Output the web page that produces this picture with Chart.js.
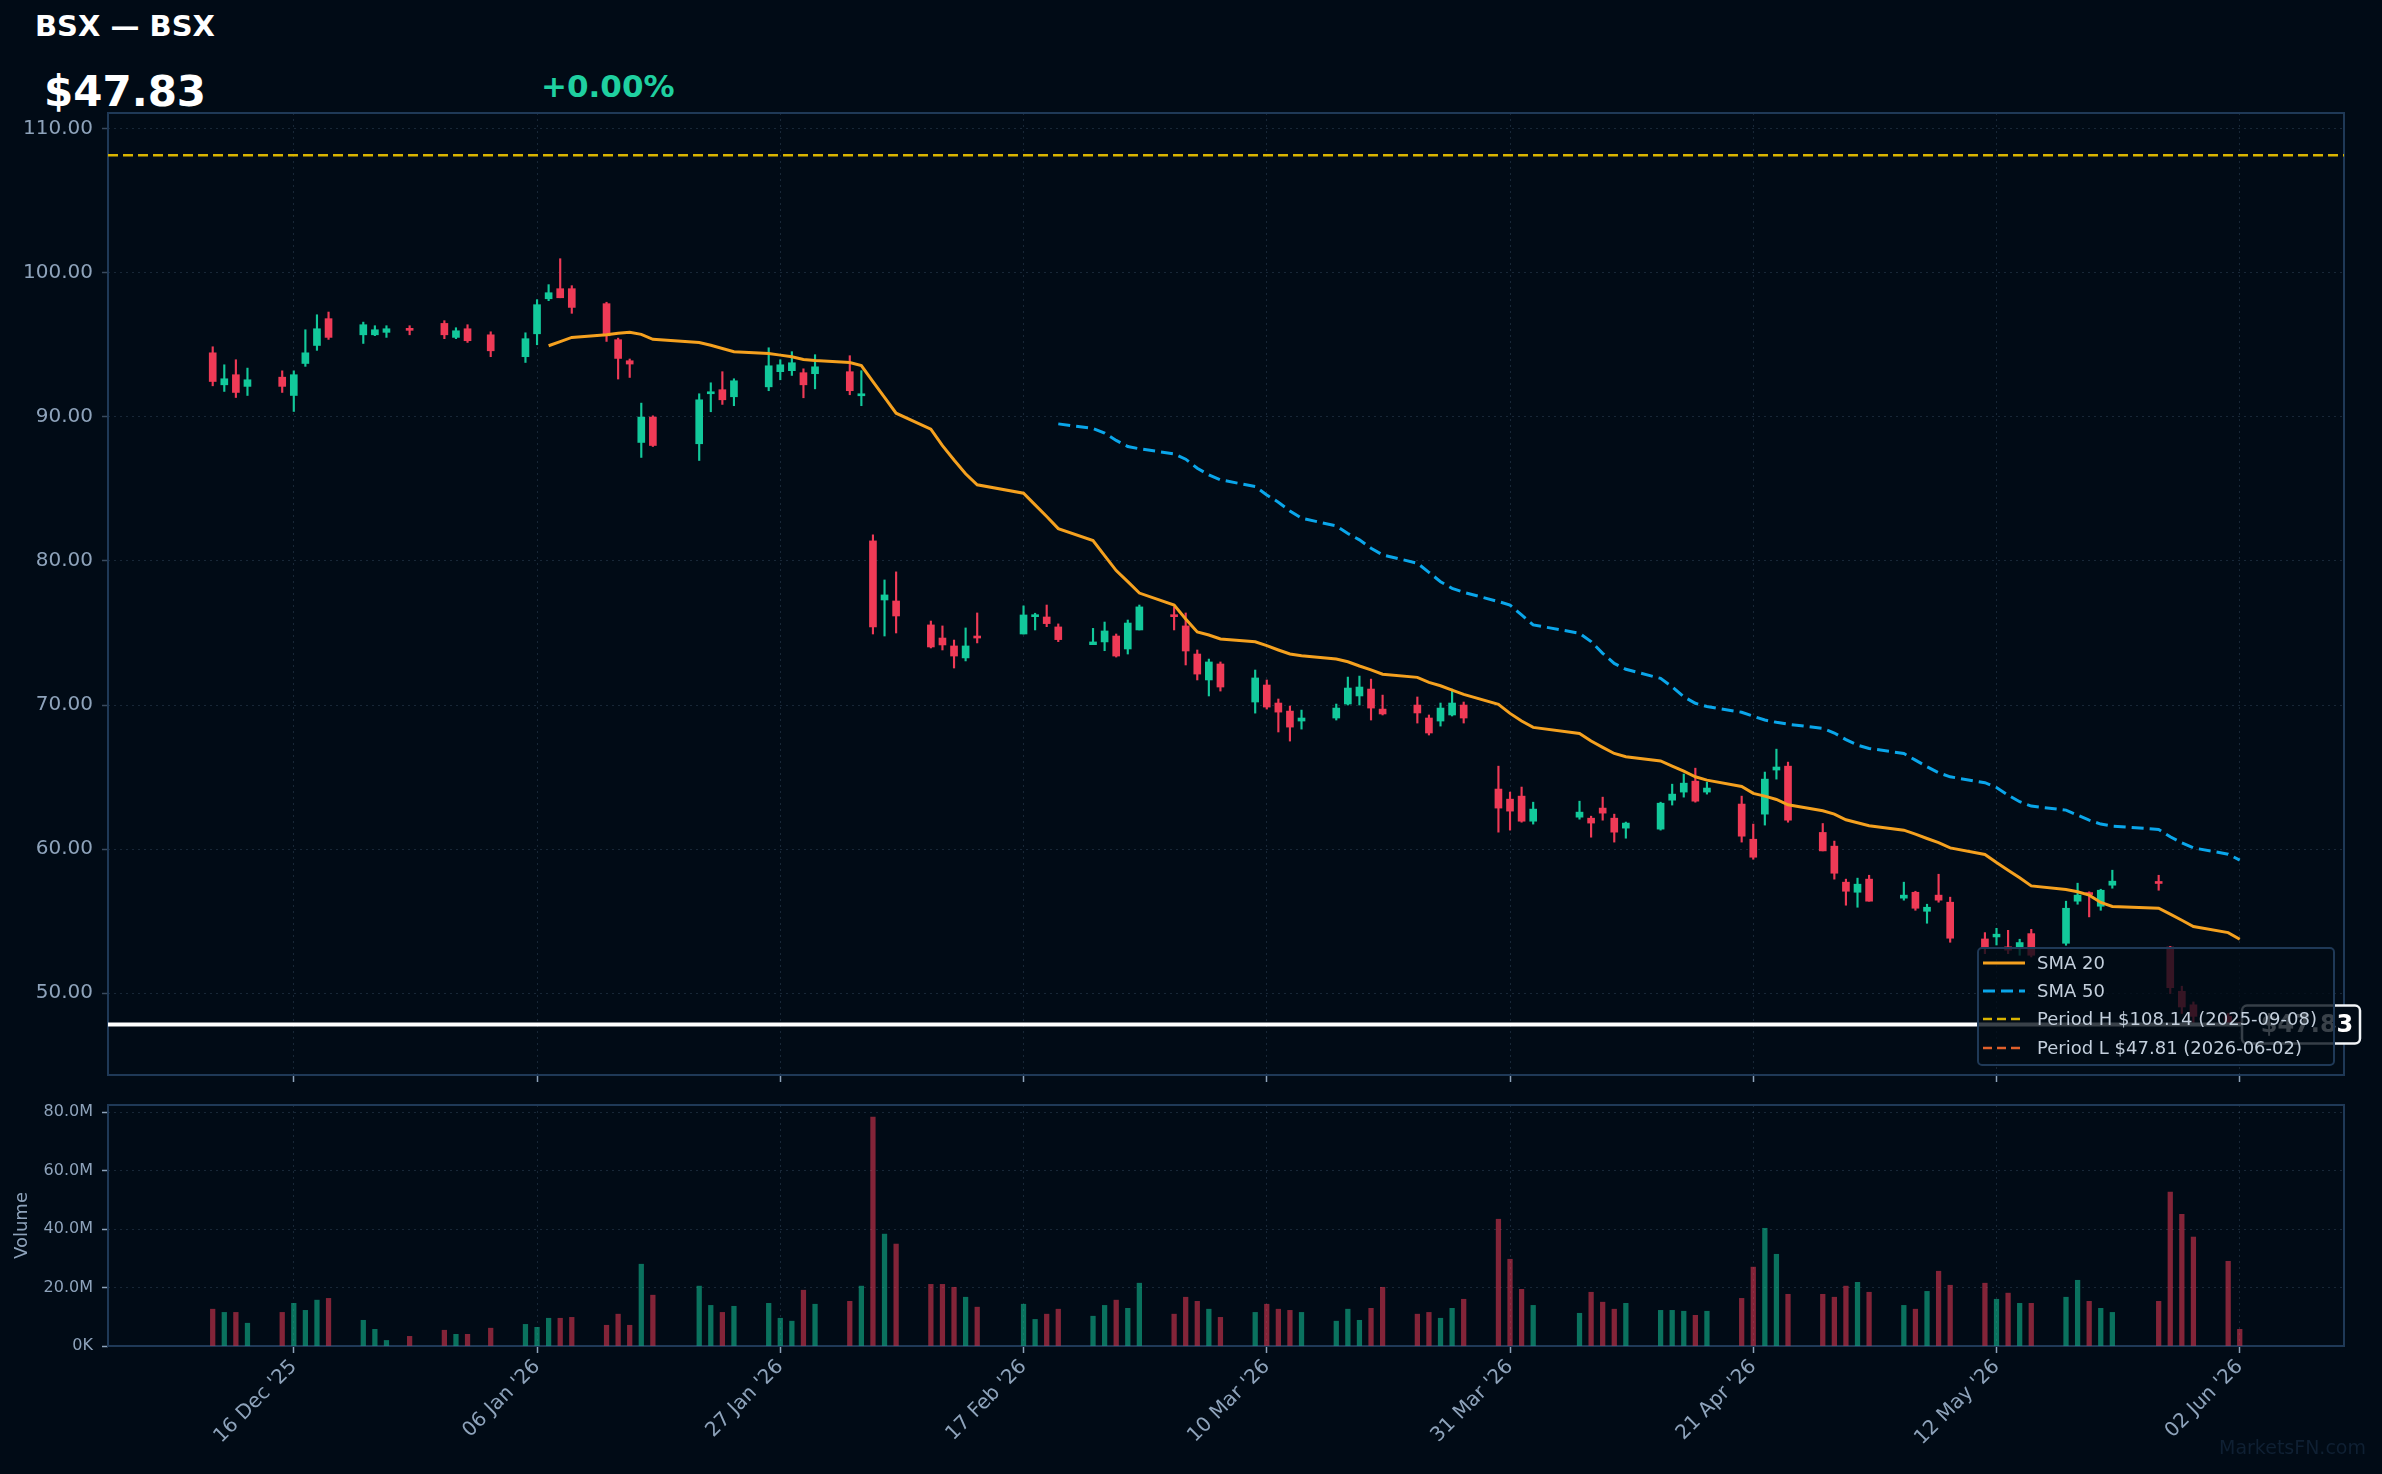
<!DOCTYPE html>
<html>
<head>
<meta charset="utf-8">
<title>BSX — BSX</title>
<script src="https://cdn.jsdelivr.net/npm/chart.js@4.4.1/dist/chart.umd.min.js"></script>
<style>
  html, body { margin: 0; padding: 0; background: #010b16; }
  body { width: 2382px; height: 1474px; position: relative; overflow: hidden; font-family: 'DejaVu Sans', sans-serif; }
  .abs { position: absolute; white-space: nowrap; line-height: 1; }
  #title { left: 35px; top: 12px; font-size: 29px; font-weight: bold; color: #ffffff; }
  #lastPrice { left: 44px; top: 71px; font-size: 42px; font-weight: bold; color: #ffffff; }
  #change { left: 541px; top: 71px; font-size: 31px; font-weight: bold; color: #1fd0a0; }
  #priceWrap { left: 0; top: 0; }
  #volWrap { left: 0; top: 1086px; }
  #legend { left: 1977px; top: 947px; width: 358px; height: 119px; box-sizing: border-box;
            border: 2px solid #1f3957; border-radius: 5px; background: rgba(1, 11, 22, 0.78); }
  #legend .sample { position: absolute; left: 4px; width: 42px; height: 6px; }
  #legend .txt { position: absolute; left: 58px; font-size: 18px; line-height: 1; color: #c3cfdc; white-space: nowrap; }
  #watermark { right: 16px; top: 1438px; font-size: 19px; color: #0f2033; }
</style>
</head>
<body>
<div id="title" class="abs">BSX — BSX</div>
<div id="lastPrice" class="abs">$47.83</div>
<div id="change" class="abs">+0.00%</div>

<div id="priceWrap" class="abs"><canvas id="priceChart" width="2382" height="1096"></canvas></div>
<div id="volWrap" class="abs"><canvas id="volumeChart" width="2382" height="388"></canvas></div>

<div id="legend" class="abs">
  <svg class="sample" style="top:11px" viewBox="0 0 42 6"><line x1="0" y1="3" x2="42" y2="3" stroke="#f5a11f" stroke-width="3"/></svg>
  <div class="txt" style="top:5px">SMA 20</div>
  <svg class="sample" style="top:39px" viewBox="0 0 42 6"><line x1="0" y1="3" x2="42" y2="3" stroke="#0aa6ea" stroke-width="3" stroke-dasharray="12 6"/></svg>
  <div class="txt" style="top:33px">SMA 50</div>
  <svg class="sample" style="top:67px" viewBox="0 0 42 6"><line x1="0" y1="3" x2="42" y2="3" stroke="#d9b400" stroke-width="2.5" stroke-dasharray="9 5"/></svg>
  <div class="txt" style="top:61px">Period H $108.14 (2025-09-08)</div>
  <svg class="sample" style="top:96px" viewBox="0 0 42 6"><line x1="0" y1="3" x2="42" y2="3" stroke="#e0602b" stroke-width="2.5" stroke-dasharray="9 5"/></svg>
  <div class="txt" style="top:90px">Period L $47.81 (2026-06-02)</div>
</div>
<div id="watermark" class="abs">MarketsFN.com</div>

<script>
// trading days shown in the chart
const DATES = [
  '2025-12-09','2025-12-10','2025-12-11','2025-12-12','2025-12-15','2025-12-16','2025-12-17','2025-12-18','2025-12-19',
  '2025-12-22','2025-12-23','2025-12-24','2025-12-26','2025-12-29','2025-12-30','2025-12-31',
  '2026-01-02','2026-01-05','2026-01-06','2026-01-07','2026-01-08','2026-01-09','2026-01-12','2026-01-13','2026-01-14',
  '2026-01-15','2026-01-16','2026-01-20','2026-01-21','2026-01-22','2026-01-23','2026-01-26','2026-01-27','2026-01-28',
  '2026-01-29','2026-01-30',
  '2026-02-02','2026-02-03','2026-02-04','2026-02-05','2026-02-06','2026-02-09','2026-02-10','2026-02-11','2026-02-12',
  '2026-02-13','2026-02-17','2026-02-18','2026-02-19','2026-02-20','2026-02-23','2026-02-24','2026-02-25','2026-02-26',
  '2026-02-27',
  '2026-03-02','2026-03-03','2026-03-04','2026-03-05','2026-03-06','2026-03-09','2026-03-10','2026-03-11','2026-03-12',
  '2026-03-13','2026-03-16','2026-03-17','2026-03-18','2026-03-19','2026-03-20','2026-03-23','2026-03-24','2026-03-25',
  '2026-03-26','2026-03-27','2026-03-30','2026-03-31',
  '2026-04-01','2026-04-02','2026-04-06','2026-04-07','2026-04-08','2026-04-09','2026-04-10','2026-04-13','2026-04-14',
  '2026-04-15','2026-04-16','2026-04-17','2026-04-20','2026-04-21','2026-04-22','2026-04-23','2026-04-24','2026-04-27',
  '2026-04-28','2026-04-29','2026-04-30',
  '2026-05-01','2026-05-04','2026-05-05','2026-05-06','2026-05-07','2026-05-08','2026-05-11','2026-05-12','2026-05-13',
  '2026-05-14','2026-05-15','2026-05-18','2026-05-19','2026-05-20','2026-05-21','2026-05-22','2026-05-26','2026-05-27',
  '2026-05-28','2026-05-29',
  '2026-06-01','2026-06-02'
];

const OPEN = [
  94.44, 92.22, 92.92, 92.11, 92.75, 91.48, 93.70, 94.95, 96.81, 95.69, 95.69, 95.86, 96.11, 96.48, 95.51, 96.11,
  95.69, 94.17, 95.76, 98.19, 98.89, 98.89, 97.85, 95.35, 93.89, 88.22, 89.98, 88.13, 91.60, 91.88, 91.39, 92.08, 93.13, 93.20, 93.06, 92.99,
  93.13, 91.46, 81.39, 77.29, 77.22, 75.56, 74.65, 74.10, 73.27, 74.79, 74.93, 76.13, 76.11, 75.42, 74.19, 74.38, 74.79, 73.89, 75.21,
  76.25, 75.49, 73.54, 71.74, 72.85, 70.21, 71.39, 70.14, 69.58, 68.89, 69.10, 70.07, 70.63, 71.11, 69.72, 70.00, 69.10, 68.89, 69.31, 70.00, 64.17, 63.47,
  63.68, 61.94, 62.22, 62.15, 62.85, 62.15, 61.46, 61.39, 63.40, 63.96, 64.72, 63.96, 63.13, 60.69, 62.43, 65.49, 65.76, 61.16, 60.21, 57.71, 57.01,
  57.92, 56.60, 57.01, 55.69, 56.81, 56.32, 53.77, 53.91, 53.22, 53.22, 54.14, 53.47, 56.39, 56.92, 56.04, 57.50, 57.71, 53.20, 50.14, 49.20,
  48.40, 47.95
];
const HIGH = [
  94.86, 93.61, 93.96, 93.38, 93.19, 93.19, 96.04, 97.08, 97.27, 96.57, 96.32, 96.32, 96.32, 96.67, 96.18, 96.39,
  95.90, 95.83, 98.13, 99.17, 100.97, 99.10, 97.95, 95.46, 94.01, 90.95, 90.07, 91.60, 92.36, 93.13, 92.64, 94.79, 93.96, 94.52, 93.33, 94.31,
  94.24, 93.20, 81.81, 78.68, 79.24, 75.83, 75.49, 74.51, 75.35, 76.39, 76.88, 76.37, 76.94, 75.63, 75.32, 75.76, 74.93, 75.90, 76.94,
  76.81, 76.39, 73.82, 73.19, 72.99, 72.43, 71.74, 70.42, 69.93, 69.65, 70.07, 71.94, 72.01, 71.80, 70.69, 70.56, 69.31, 70.14, 71.11, 70.21, 65.76, 63.96,
  64.31, 63.26, 63.33, 62.29, 63.61, 62.43, 61.88, 63.26, 64.51, 65.21, 65.62, 64.65, 63.68, 61.74, 65.35, 66.94, 66.04, 61.78, 60.56, 57.92, 57.99,
  58.19, 57.71, 57.08, 56.18, 58.26, 56.67, 54.21, 54.51, 54.37, 53.75, 54.44, 56.39, 57.64, 57.04, 57.22, 58.54, 58.19, 53.25, 50.49, 49.40,
  48.60, 48.00
];
const LOW = [
  92.15, 91.76, 91.34, 91.48, 91.69, 90.37, 93.50, 94.61, 95.37, 95.09, 95.63, 95.51, 95.69, 95.42, 95.42, 95.16,
  94.17, 93.77, 95.00, 98.06, 98.26, 97.18, 95.23, 92.62, 92.73, 87.18, 87.94, 86.97, 90.35, 90.86, 90.77, 91.81, 92.57, 92.87, 91.32, 91.94,
  91.53, 90.77, 74.93, 74.79, 75.00, 73.96, 73.82, 72.57, 73.06, 74.31, 74.93, 75.21, 75.44, 74.40, 74.19, 73.77, 73.33, 73.54, 75.21,
  75.21, 72.78, 71.74, 70.63, 70.97, 69.44, 69.72, 68.13, 67.50, 68.33, 68.96, 70.00, 70.00, 68.96, 69.31, 68.75, 67.92, 68.54, 69.24, 68.75, 61.18, 61.32,
  61.87, 61.74, 62.08, 60.83, 62.01, 60.49, 60.76, 61.32, 63.06, 63.61, 63.26, 63.82, 60.49, 59.30, 61.67, 64.86, 61.87, 59.88, 57.92, 56.11, 55.97,
  56.39, 56.46, 55.76, 54.86, 56.32, 53.54, 52.75, 53.35, 52.75, 52.64, 52.52, 53.33, 56.18, 55.30, 55.76, 57.29, 57.15, 49.98, 48.60, 47.90,
  47.85, 47.81
];
const CLOSE = [
  92.45, 92.64, 91.69, 92.57, 92.11, 92.92, 94.44, 96.11, 95.51, 96.39, 96.04, 96.11, 96.00, 95.69, 95.97, 95.28,
  94.58, 95.42, 97.78, 98.61, 98.26, 97.59, 95.62, 94.05, 93.66, 89.98, 88.01, 91.18, 91.69, 91.18, 92.50, 93.54, 93.61, 93.75, 92.22, 93.47,
  91.81, 91.60, 75.42, 77.64, 76.18, 74.03, 74.17, 73.40, 74.10, 74.65, 76.25, 76.25, 75.65, 74.54, 74.38, 75.14, 73.40, 75.69, 76.81,
  76.13, 73.75, 72.15, 72.99, 71.25, 71.88, 69.86, 69.51, 68.47, 69.10, 69.79, 71.18, 71.25, 69.79, 69.38, 69.45, 68.06, 69.79, 70.14, 69.10, 62.85, 62.64,
  61.94, 62.78, 62.57, 61.81, 62.50, 61.18, 61.81, 63.19, 63.82, 64.58, 63.33, 64.24, 60.90, 59.44, 64.86, 65.70, 62.01, 59.88, 58.33, 57.08, 57.57,
  56.39, 56.81, 55.90, 55.97, 56.46, 53.82, 53.10, 54.10, 52.99, 53.52, 52.64, 55.90, 56.81, 56.85, 57.15, 57.78, 57.62, 50.39, 49.05, 48.40,
  47.90, 47.83
];
// volume in millions of shares
const VOLUME_M = [
  12.6, 11.5, 11.5, 7.8, 11.5, 14.6, 12.2, 15.7, 16.3, 8.8, 5.7, 1.9, 3.3, 5.4, 4.0, 4.0,
  6.1, 7.4, 6.4, 9.5, 9.5, 9.8, 7.1, 10.9, 7.1, 28.0, 17.4, 20.5, 13.9, 11.5, 13.6, 14.6, 9.5, 8.5, 19.1, 14.3,
  15.3, 20.5, 78.4, 38.3, 34.9, 21.1, 21.1, 20.1, 16.7, 13.3, 14.3, 9.1, 10.9, 12.6, 10.2, 13.9, 15.7, 12.9, 21.5,
  10.9, 16.7, 15.3, 12.6, 9.8, 11.5, 14.3, 12.6, 12.2, 11.5, 8.5, 12.6, 8.8, 12.9, 20.1, 10.9, 11.5, 9.5, 12.9, 16.0, 43.4, 29.7,
  19.4, 13.9, 11.2, 18.4, 15.0, 12.6, 14.6, 12.2, 12.2, 11.9, 10.5, 11.9, 16.3, 27.0, 40.3, 31.4, 17.7, 17.7, 16.7, 20.5, 21.8,
  18.4, 13.9, 12.6, 18.7, 25.6, 20.8, 21.5, 16.0, 18.1, 14.6, 14.6, 16.7, 22.5, 15.3, 12.9, 11.5, 15.3, 52.7, 45.1, 37.3,
  29.0, 5.7
];
// moving averages, aligned with the last dates of DATES
const SMA20 = [
  94.93, 95.22, 95.51, 95.70, 95.79, 95.87, 95.72, 95.38, 95.16, 94.96, 94.74, 94.51, 94.39, 94.28, 94.17, 93.98, 93.90,
  93.77, 93.55, 92.44, 91.35, 90.25, 89.14, 88.00, 87.00, 86.05, 85.28, 84.70, 83.89, 83.08, 82.24, 81.41, 80.37, 79.33, 78.56, 77.77,
  76.94, 75.97, 75.07, 74.86, 74.58, 74.39, 74.12, 73.82, 73.54, 73.42, 73.19, 73.00, 72.71, 72.44, 72.14, 71.92, 71.57, 71.34, 71.04, 70.74, 70.05, 69.42,
  68.89, 68.45, 68.03, 67.50, 67.06, 66.64, 66.41, 66.12, 65.76, 65.42, 65.02, 64.79, 64.35, 63.87, 63.68, 63.45, 63.08, 62.66, 62.43, 62.04, 61.83,
  61.62, 61.32, 61.04, 60.74, 60.46, 60.09, 59.63, 59.07, 58.54, 58.01, 57.45, 57.20, 57.04, 56.81, 56.30, 56.02, 55.90, 55.49, 55.07, 54.63,
  54.21, 53.75
];
const SMA50 = [
  89.51, 89.19, 88.87, 88.36, 87.94, 87.78,
  87.43, 87.06, 86.43, 85.97, 85.63, 85.16, 84.58, 84.07, 83.47, 82.96, 82.43, 81.90, 81.46, 80.88, 80.42, 79.84, 79.21, 78.56, 78.10, 77.82, 77.18, 76.94,
  76.25, 75.56, 74.98, 74.40, 73.59, 72.89, 72.48, 71.85, 71.27, 70.58, 70.12, 69.90, 69.50, 69.22, 68.96, 68.80, 68.67, 68.38, 68.06, 67.60, 67.22,
  66.99, 66.64, 66.18, 65.72, 65.30, 65.02, 64.61, 64.28, 63.75, 63.29, 62.99, 62.71, 62.36, 62.01, 61.74, 61.60, 61.37, 60.86, 60.44, 60.09,
  59.65, 59.24
];

const X_TICK_DATES = ['2025-12-16', '2026-01-06', '2026-01-27', '2026-02-17', '2026-03-10', '2026-03-31', '2026-04-21', '2026-05-12', '2026-06-02'];
const X_TICK_LABELS = ["16 Dec '25", "06 Jan '26", "27 Jan '26", "17 Feb '26", "10 Mar '26", "31 Mar '26", "21 Apr '26", "12 May '26", "02 Jun '26"];
const PRICE_TICKS = [50, 60, 70, 80, 90, 100, 110];
const VOL_TICKS = [0, 20, 40, 60, 80];
const VOL_TICK_LABELS = ['0K', '20.0M', '40.0M', '60.0M', '80.0M'];

const PERIOD_HIGH = 108.14;
const PERIOD_LOW = 47.81;
const LAST_PRICE = 47.83;

// colours
const BG = '#010b16';
const UP = '#12c99b';
const DOWN = '#ef3a56';
const UP_VOL = 'rgba(18,201,155,0.55)';
const DOWN_VOL = 'rgba(239,58,86,0.55)';
const LABEL = '#8ea3bb';
const GRID = 'rgba(110,140,175,0.22)';
const FRAME = '#1f3957';

function dayNum(s) {
  const [y, m, d] = s.split('-').map(Number);
  return Date.UTC(y, m - 1, d) / 86400000;
}

const xs = DATES.map(dayNum);
const X_MIN = dayNum('2025-12-16') - 16.04;
const X_MAX = dayNum('2026-06-02') + 9.0;
const isUp = i => CLOSE[i] >= OPEN[i];

Chart.defaults.font.family = "'DejaVu Sans', sans-serif";

const framePlugin = {
  id: 'frame',
  beforeDatasetsDraw(chart) {
    const { ctx, chartArea: a } = chart;
    ctx.save();
    ctx.strokeStyle = FRAME;
    ctx.lineWidth = 2;
    ctx.strokeRect(a.left, a.top, a.right - a.left, a.bottom - a.top);
    ctx.restore();
  }
};

const lastPriceTag = {
  id: 'lastPriceTag',
  afterDraw(chart) {
    const { ctx, chartArea: a } = chart;
    const y = chart.scales.y.getPixelForValue(LAST_PRICE);
    const left = a.right - 102, w = 118, h = 38;
    ctx.save();
    ctx.beginPath();
    ctx.roundRect(left, y - h / 2, w, h, 5);
    ctx.fillStyle = BG;
    ctx.fill();
    ctx.lineWidth = 2.5;
    ctx.strokeStyle = '#f2f5f8';
    ctx.stroke();
    ctx.fillStyle = '#ffffff';
    ctx.font = "bold 24px 'DejaVu Sans'";
    ctx.textAlign = 'center';
    ctx.textBaseline = 'middle';
    ctx.fillText('$' + LAST_PRICE.toFixed(2), left + w / 2 + 6, y + 1);
    ctx.restore();
  }
};

function xScale(showLabels, height) {
  return {
    type: 'linear', min: X_MIN, max: X_MAX, offset: false,
    afterBuildTicks: s => { s.ticks = X_TICK_DATES.map(d => ({ value: dayNum(d) })); },
    afterFit: s => { s.height = height; },
    ticks: {
      display: showLabels, autoSkip: false, minRotation: 45, maxRotation: 45,
      color: LABEL, font: { size: 20 }, padding: 2,
      callback: (v, i) => X_TICK_LABELS[i]
    },
    grid: { offset: false, color: GRID, lineWidth: 1, drawTicks: true, tickLength: 7, tickColor: LABEL, tickWidth: 1.5 },
    border: { display: false, dash: [2, 4] }
  };
}

const line = (label, data, color, width, dash, order) => ({
  type: 'line', label, data, borderColor: color, borderWidth: width, borderDash: dash,
  pointRadius: 0, tension: 0, order
});

new Chart(document.getElementById('priceChart'), {
  type: 'bar',
  data: {
    datasets: [
      line('Last', [{ x: X_MIN, y: LAST_PRICE }, { x: X_MAX, y: LAST_PRICE }], '#ffffff', 4, [], 0),
      line('SMA 20', SMA20.map((v, i) => ({ x: xs[xs.length - SMA20.length + i], y: v })), '#f5a11f', 3, [], 1),
      line('SMA 50', SMA50.map((v, i) => ({ x: xs[xs.length - SMA50.length + i], y: v })), '#0aa6ea', 3, [12, 6], 1),
      line('Period H', [{ x: X_MIN, y: PERIOD_HIGH }, { x: X_MAX, y: PERIOD_HIGH }], '#d9b400', 2.5, [10, 5], 2),
      line('Period L', [{ x: X_MIN, y: PERIOD_LOW }, { x: X_MAX, y: PERIOD_LOW }], '#e0602b', 2.5, [10, 5], 2),
      {
        label: 'bodies', data: xs.map((x, i) => ({ x, y: [OPEN[i], CLOSE[i]] })),
        backgroundColor: c => isUp(c.dataIndex) ? UP : DOWN,
        barThickness: 7, minBarLength: 2, grouped: false, order: 3
      },
      {
        label: 'wicks', data: xs.map((x, i) => ({ x, y: [LOW[i], HIGH[i]] })),
        backgroundColor: c => isUp(c.dataIndex) ? UP : DOWN,
        barThickness: 1.5, grouped: false, order: 4
      }
    ]
  },
  options: {
    responsive: false, animation: false, events: [],
    layout: { padding: { left: 0, right: 38, top: 113, bottom: 13 } },
    plugins: { legend: { display: false }, tooltip: { enabled: false } },
    scales: {
      x: xScale(false, 8),
      y: {
        type: 'linear', min: 44.33, max: 111.08,
        afterBuildTicks: s => { s.ticks = PRICE_TICKS.map(v => ({ value: v })); },
        afterFit: s => { s.width = 108; },
        ticks: { color: LABEL, font: { size: 20 }, padding: 9, callback: v => v.toFixed(2) },
        grid: { color: GRID, lineWidth: 1, drawTicks: true, tickLength: 6, tickColor: '#3a4a5e', tickWidth: 1.5 },
        border: { display: false, dash: [2, 4] }
      }
    }
  },
  plugins: [framePlugin, lastPriceTag]
});

new Chart(document.getElementById('volumeChart'), {
  type: 'bar',
  data: {
    datasets: [{
      label: 'Volume', data: xs.map((x, i) => ({ x, y: VOLUME_M[i] })),
      backgroundColor: c => isUp(c.dataIndex) ? UP_VOL : DOWN_VOL,
      barThickness: 4.6, grouped: false
    }]
  },
  options: {
    responsive: false, animation: false, events: [],
    layout: { padding: { left: 0, right: 38, top: 19, bottom: 0 } },
    plugins: { legend: { display: false }, tooltip: { enabled: false } },
    scales: {
      x: xScale(true, 128),
      y: {
        type: 'linear', min: 0, max: 82.5,
        afterBuildTicks: s => { s.ticks = VOL_TICKS.map(v => ({ value: v })); },
        afterFit: s => { s.width = 108; },
        ticks: { color: LABEL, font: { size: 16 }, padding: 9, callback: (v, i) => VOL_TICK_LABELS[i] },
        title: { display: true, text: 'Volume', color: LABEL, font: { size: 18 }, padding: { top: 12, bottom: 0 } },
        grid: { color: GRID, lineWidth: 1, drawTicks: true, tickLength: 6, tickColor: LABEL, tickWidth: 1.5 },
        border: { display: false, dash: [2, 4] }
      }
    }
  },
  plugins: [framePlugin]
});
</script>
</body>
</html>
